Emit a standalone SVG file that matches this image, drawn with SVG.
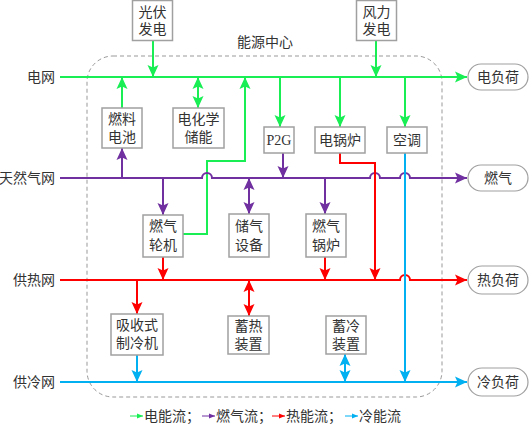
<svg xmlns="http://www.w3.org/2000/svg" width="529" height="424" viewBox="0 0 529 424">
<style>
text{font-family:"Liberation Serif","Noto Sans CJK SC",serif;font-size:14px;fill:#333;}
.c{text-anchor:middle;dominant-baseline:central;}
.lbl{text-anchor:end;dominant-baseline:central;}
.box{fill:#fff;stroke:#a0a0a0;stroke-width:1.5;}
.pill{fill:#fff;stroke:#a0a0a0;stroke-width:1.2;}
.frame{fill:none;stroke:#999;stroke-width:1;stroke-dasharray:4 3;}
.e,.g,.h,.k{fill:none;stroke-width:2;}
.e{stroke:#19ee55;}
.g{stroke:#7030a0;}
.h{stroke:#ff0000;}
.k{stroke:#00b0f0;}
.e.a{marker-end:url(#ae);} .g.a{marker-end:url(#ag);} .h.a{marker-end:url(#ah);} .k.a{marker-end:url(#ak);}
.e.b{marker-start:url(#ae);marker-end:url(#ae);}
.g.b{marker-start:url(#ag);marker-end:url(#ag);}
.h.b{marker-start:url(#ah);marker-end:url(#ah);}
.k.b{marker-start:url(#ak);marker-end:url(#ak);}
.lg{stroke-width:1;fill:none;}
</style>
<defs>
<marker id="ae" markerUnits="userSpaceOnUse" markerWidth="12" markerHeight="12" viewBox="0 0 12 12" refX="12" refY="6" orient="auto-start-reverse"><path d="M0,0.5 L12,6 L0,11.5 L2.5,6 z" fill="#19ee55"/></marker>
<marker id="ag" markerUnits="userSpaceOnUse" markerWidth="12" markerHeight="12" viewBox="0 0 12 12" refX="12" refY="6" orient="auto-start-reverse"><path d="M0,0.5 L12,6 L0,11.5 L2.5,6 z" fill="#7030a0"/></marker>
<marker id="ah" markerUnits="userSpaceOnUse" markerWidth="12" markerHeight="12" viewBox="0 0 12 12" refX="12" refY="6" orient="auto-start-reverse"><path d="M0,0.5 L12,6 L0,11.5 L2.5,6 z" fill="#ff0000"/></marker>
<marker id="ak" markerUnits="userSpaceOnUse" markerWidth="12" markerHeight="12" viewBox="0 0 12 12" refX="12" refY="6" orient="auto-start-reverse"><path d="M0,0.5 L12,6 L0,11.5 L2.5,6 z" fill="#00b0f0"/></marker>
<marker id="se" markerUnits="userSpaceOnUse" markerWidth="6" markerHeight="6" viewBox="0 0 6 6" refX="6" refY="3" orient="auto"><path d="M0,0.5 L6,3 L0,5.5 z" fill="#19ee55"/></marker>
<marker id="sg" markerUnits="userSpaceOnUse" markerWidth="6" markerHeight="6" viewBox="0 0 6 6" refX="6" refY="3" orient="auto"><path d="M0,0.5 L6,3 L0,5.5 z" fill="#7030a0"/></marker>
<marker id="sh" markerUnits="userSpaceOnUse" markerWidth="6" markerHeight="6" viewBox="0 0 6 6" refX="6" refY="3" orient="auto"><path d="M0,0.5 L6,3 L0,5.5 z" fill="#ff0000"/></marker>
<marker id="sk" markerUnits="userSpaceOnUse" markerWidth="6" markerHeight="6" viewBox="0 0 6 6" refX="6" refY="3" orient="auto"><path d="M0,0.5 L6,3 L0,5.5 z" fill="#00b0f0"/></marker>
</defs>

<rect class="frame" x="87" y="56" width="355" height="341" rx="26"/>
<text class="c" x="265" y="42">能源中心</text>

<g id="bus-labels">
<text class="lbl" x="55" y="77">电网</text>
<text class="lbl" x="55" y="178">天然气网</text>
<text class="lbl" x="55" y="280">供热网</text>
<text class="lbl" x="55" y="382">供冷网</text>
</g>

<g id="connectors">
<path class="e a" d="M60,77 H467"/>
<path class="e a" d="M153,41 V77"/>
<path class="e a" d="M376,41 V77"/>
<path class="e a" d="M122,108 V77"/>
<path class="e b" d="M198,77 V108"/>
<path class="e a" d="M182,234 H207 V161 H245 V77"/>
<path class="e a" d="M280,77 V127"/>
<path class="e a" d="M340,77 V127"/>
<path class="e a" d="M405,77 V127"/>

<path class="g a" d="M60,178 H202 A5,5 0 0 1 212,178 H370 A5,5 0 0 1 380,178 H400 A5,5 0 0 1 410,178 H467"/>
<path class="g a" d="M122,178 V148"/>
<path class="g a" d="M283,153 V178"/>
<path class="g a" d="M163,178 V215"/>
<path class="g b" d="M249,178 V214"/>
<path class="g a" d="M325,178 V214"/>

<path class="h a" d="M60,280 H400 A5,5 0 0 1 410,280 H467"/>
<path class="h a" d="M340,153 V163 H375 V280"/>
<path class="h a" d="M163,257 V280"/>
<path class="h a" d="M325,257 V280"/>
<path class="h a" d="M137,280 V314"/>
<path class="h b" d="M249,280 V316"/>

<path class="k a" d="M60,382 H467"/>
<path class="k a" d="M405,153 V382"/>
<path class="k a" d="M137,355 V382"/>
<path class="k b" d="M345,354 V382"/>
</g>

<g id="pv"><rect class="box" x="132.5" y="0.5" width="40" height="40"/><text class="c" x="152.5" y="12">光伏</text><text class="c" x="152.5" y="29">发电</text></g>
<g id="wind"><rect class="box" x="356.5" y="0.5" width="40" height="40"/><text class="c" x="376.5" y="12">风力</text><text class="c" x="376.5" y="29">发电</text></g>
<g id="fuelcell"><rect class="box" x="102" y="108" width="40" height="40"/><text class="c" x="122" y="119">燃料</text><text class="c" x="122" y="137">电池</text></g>
<g id="ees"><rect class="box" x="173" y="108" width="51" height="40"/><text class="c" x="198.5" y="119">电化学</text><text class="c" x="198.5" y="137">储能</text></g>
<g id="p2g"><rect class="box" x="264" y="127" width="30" height="26"/><text class="c" x="279" y="140">P2G</text></g>
<g id="eboiler"><rect class="box" x="315" y="127" width="50" height="26"/><text class="c" x="340" y="140">电锅炉</text></g>
<g id="ac"><rect class="box" x="387" y="127" width="40" height="26"/><text class="c" x="407" y="140">空调</text></g>
<g id="gt"><rect class="box" x="143" y="215" width="40" height="42"/><text class="c" x="163" y="226">燃气</text><text class="c" x="163" y="245">轮机</text></g>
<g id="gs"><rect class="box" x="229" y="214" width="40" height="43"/><text class="c" x="249" y="226">储气</text><text class="c" x="249" y="245">设备</text></g>
<g id="gboiler"><rect class="box" x="306" y="214" width="40" height="43"/><text class="c" x="326" y="226">燃气</text><text class="c" x="326" y="245">锅炉</text></g>
<g id="absorb"><rect class="box" x="111" y="314" width="52" height="41"/><text class="c" x="137" y="325">吸收式</text><text class="c" x="137" y="343">制冷机</text></g>
<g id="hs"><rect class="box" x="228" y="316" width="41" height="38"/><text class="c" x="248.5" y="326">蓄热</text><text class="c" x="248.5" y="344">装置</text></g>
<g id="cs"><rect class="box" x="326" y="316" width="40" height="38"/><text class="c" x="346" y="326">蓄冷</text><text class="c" x="346" y="344">装置</text></g>

<g id="eload"><rect class="pill" x="468" y="64" width="60" height="26" rx="13"/><text class="c" x="498" y="77">电负荷</text></g>
<g id="gload"><rect class="pill" x="468" y="165" width="60" height="26" rx="13"/><text class="c" x="498" y="178">燃气</text></g>
<g id="hload"><rect class="pill" x="468" y="266" width="60" height="28" rx="14"/><text class="c" x="498" y="280">热负荷</text></g>
<g id="cload"><rect class="pill" x="468" y="368" width="60" height="28" rx="14"/><text class="c" x="498" y="382">冷负荷</text></g>

<g id="legend">
<path class="lg" stroke="#19ee55" marker-end="url(#se)" d="M130,416 H143"/>
<text x="144" y="416" dominant-baseline="central">电能流；</text>
<path class="lg" stroke="#7030a0" marker-end="url(#sg)" d="M202,416 H215"/>
<text x="216" y="416" dominant-baseline="central">燃气流；</text>
<path class="lg" stroke="#ff0000" marker-end="url(#sh)" d="M272,416 H285"/>
<text x="286" y="416" dominant-baseline="central">热能流；</text>
<path class="lg" stroke="#00b0f0" marker-end="url(#sk)" d="M345,416 H358"/>
<text x="359" y="416" dominant-baseline="central">冷能流</text>
</g>
</svg>
